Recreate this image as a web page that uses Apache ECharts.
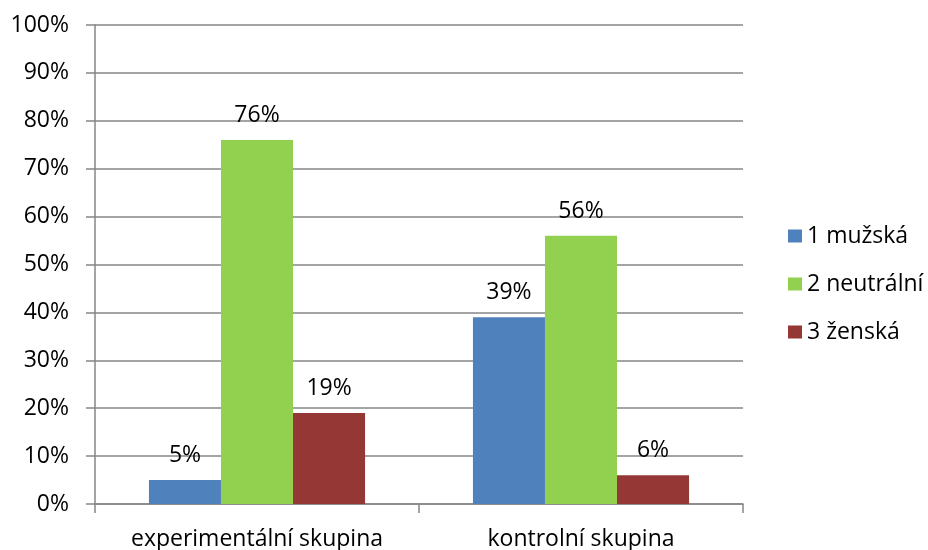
<!DOCTYPE html>
<html>
<head>
<meta charset="utf-8">
<script src="https://cdn.jsdelivr.net/npm/echarts@6/dist/echarts.min.js"></script>
<style>html,body{margin:0;padding:0;background:#fff;}#c{width:928px;height:550px;}</style>
</head>
<body>
<div id="c"></div>
<script>
var categories = ['experimentální skupina', 'kontrolní skupina'];
var seriesNames = ['1 mužská', '2 neutrální', '3 ženská'];
var muzska = [5, 39];
var neutralni = [76, 56];
var zenska = [19, 6];
var yTicks = { min: 0, max: 100, interval: 10 };

var FONT = 'Open Sans';
var colors = ['#4F81BD', '#92D050', '#953735'];
var values = [muzska, neutralni, zenska];

var chart = echarts.init(document.getElementById('c'), null, { renderer: 'canvas' });
chart.setOption({
  animation: false,
  backgroundColor: '#ffffff',
  textStyle: { fontFamily: FONT },
  grid: { left: 95, right: 185, top: 25, bottom: 46, containLabel: false, outerBoundsMode: 'none' },
  legend: {
    orient: 'vertical',
    left: 788,
    top: 223,
    padding: 0,
    itemWidth: 14,
    itemHeight: 13,
    itemGap: 22,
    icon: 'rect',
    textStyle: { fontFamily: FONT, fontSize: 23, color: '#000', lineHeight: 26 },
    data: seriesNames
  },
  xAxis: {
    type: 'category',
    data: categories,
    axisLine: { show: true, lineStyle: { color: '#868686', width: 1.5 } },
    axisTick: { show: true, length: 9, alignWithLabel: false, interval: 0, lineStyle: { color: '#868686', width: 1.5 } },
    axisLabel: { fontFamily: FONT, fontSize: 23, color: '#000', margin: 24, interval: 0, hideOverlap: false },
    splitLine: { show: false }
  },
  yAxis: {
    type: 'value',
    min: yTicks.min,
    max: yTicks.max,
    interval: yTicks.interval,
    axisLine: { show: true, lineStyle: { color: '#868686', width: 1.5 } },
    axisTick: { show: true, length: 9, inside: false, lineStyle: { color: '#868686', width: 1.5 } },
    axisLabel: { fontFamily: FONT, fontSize: 23, color: '#000', margin: 26, formatter: '{value}%' },
    splitLine: { show: true, lineStyle: { color: '#868686', width: 1.5 } }
  },
  series: seriesNames.map(function (n, i) {
    return {
      name: n,
      type: 'bar',
      data: values[i],
      barGap: '0%',
      barCategoryGap: '33.3%',
      itemStyle: { color: colors[i] },
      label: {
        show: true,
        position: 'top',
        distance: 13,
        formatter: '{c}%',
        fontFamily: FONT,
        fontSize: 23,
        color: '#000'
      }
    };
  })
});
</script>
</body>
</html>
